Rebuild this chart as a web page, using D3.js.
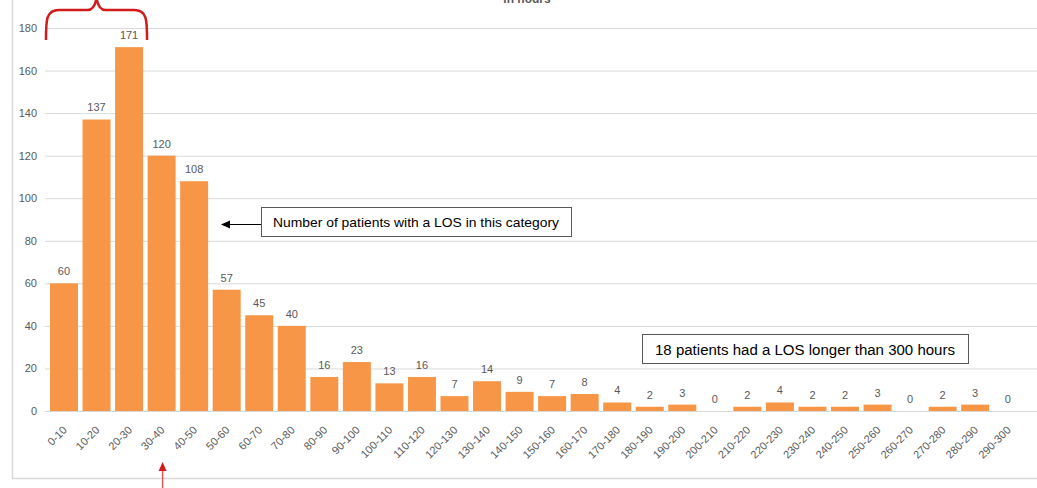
<!DOCTYPE html>
<html><head><meta charset="utf-8">
<script src="https://cdn.jsdelivr.net/npm/d3@7"></script>
<style>body{margin:0;background:#fff;}svg{display:block;}</style>
</head><body>
<svg id="c" width="1037" height="488"></svg>
<script>
const categories = ["0-10","10-20","20-30","30-40","40-50","50-60","60-70","70-80","80-90","90-100","100-110","110-120","120-130","130-140","140-150","150-160","160-170","170-180","180-190","190-200","200-210","210-220","220-230","230-240","240-250","250-260","260-270","270-280","280-290","290-300"];
const patients = [60,137,171,120,108,57,45,40,16,23,13,16,7,14,9,7,8,4,2,3,0,2,4,2,2,3,0,2,3,0];
const yTicks = [0,20,40,60,80,100,120,140,160,180];
const titleText = "in hours";
const note1 = "Number of patients with a LOS in this category";
const note2 = "18 patients had a LOS longer than 300 hours";

(function(){
const svg = d3.select("#c");
const font = "'Liberation Sans', Arial, sans-serif";

// outer frame
svg.append("rect").attr("x",12.5).attr("y",-5).attr("width",1040).attr("height",483.5)
  .attr("fill","none").attr("stroke","#d9d9d9").attr("stroke-width",1.5);

const x = d3.scaleBand().domain(categories).range([47.7,1024]).paddingInner(0.14).paddingOuter(0.07);
const y = d3.scaleLinear().domain([0,180]).range([411,28]);

// gridlines
svg.append("g").selectAll("line").data(yTicks.filter(d=>d>0)).join("line")
  .attr("x1",45).attr("x2",1037).attr("y1",d=>y(d)+0.5).attr("y2",d=>y(d)+0.5)
  .attr("stroke","#d9d9d9").attr("stroke-width",1);

// y axis
const yAxis = svg.append("g").attr("transform","translate(45,0)")
  .call(d3.axisLeft(y).tickValues(yTicks).tickSize(0).tickPadding(8));
yAxis.select(".domain").remove();
yAxis.selectAll("text").attr("fill","#595959").attr("font-size",11).attr("font-family",font);

// bars
svg.append("g").selectAll("rect").data(patients).join("rect")
  .attr("x",(d,i)=>x(categories[i])).attr("width",x.bandwidth())
  .attr("y",d=>y(d)).attr("height",d=>y(0)-y(d)).attr("fill","#F79646");

// baseline
svg.append("line").attr("x1",45).attr("x2",1037).attr("y1",y(0)+0.5).attr("y2",y(0)+0.5).attr("stroke","#d9d9d9");

// value labels
svg.append("g").selectAll("text").data(patients).join("text")
  .attr("x",(d,i)=>x(categories[i])+x.bandwidth()/2).attr("y",d=>y(d)-8)
  .attr("text-anchor","middle").attr("font-size",11).attr("font-family",font).attr("fill","#595959")
  .text(d=>d);

// x axis
const xAxis = svg.append("g").attr("transform",`translate(0,${y(0)})`)
  .call(d3.axisBottom(x).tickSize(0).tickPadding(0));
xAxis.select(".domain").remove();
xAxis.selectAll("text").attr("fill","#595959").attr("font-size",11).attr("font-family",font)
  .attr("text-anchor","end").attr("x",0).attr("y",0).attr("dy","0.35em")
  .attr("transform","translate(1,17) rotate(-45)");

// title (cut off at top, as in the source)
svg.append("text").attr("x",527).attr("y",3).attr("text-anchor","middle")
  .attr("font-size",12).attr("font-weight","bold").attr("font-family",font).attr("fill","#595959").text(titleText);

// red brace over first three bars
const bx0 = x(categories[0]) - 4, bx1 = x(categories[2]) + x.bandwidth() + 4;
const bm = (bx0+bx1)/2, by = 40, r = 9, bt = 10;
svg.append("path")
  .attr("d",`M${bx0},${by} C${bx0},${bt+10} ${bx0},${bt} ${bx0+r+4},${bt} L${bm-r},${bt} Q${bm-2},${bt} ${bm},${bt-12} Q${bm+2},${bt} ${bm+r},${bt} L${bx1-r-4},${bt} C${bx1},${bt} ${bx1},${bt+10} ${bx1},${by}`)
  .attr("fill","none").attr("stroke","#d01c1c").attr("stroke-width",2.5);

// red arrow at bottom pointing up toward 30-40
const ax = x(categories[3]) + x.bandwidth()/2 + 1;
svg.append("line").attr("x1",ax).attr("x2",ax).attr("y1",488).attr("y2",470).attr("stroke","#e05555").attr("stroke-width",1.5);
svg.append("path").attr("d",`M${ax-4},471 L${ax},462 L${ax+4},471 Z`).attr("fill","#d01c1c");

// annotation box 1
svg.append("rect").attr("x",261.5).attr("y",207.5).attr("width",310).attr("height",29)
  .attr("fill","#fff").attr("stroke","#595959").attr("stroke-width",1);
svg.append("text").attr("x",416).attr("y",227).attr("text-anchor","middle").attr("font-size",13)
  .attr("font-family",font).attr("fill","#000").attr("textLength",286).attr("lengthAdjust","spacingAndGlyphs").text(note1);
svg.append("line").attr("x1",261).attr("x2",228).attr("y1",224.5).attr("y2",224.5).attr("stroke","#000").attr("stroke-width",1);
svg.append("path").attr("d","M221,224.5 L230,220.5 L230,228.5 Z").attr("fill","#000");

// annotation box 2
svg.append("rect").attr("x",642.5).attr("y",334.5).attr("width",326).attr("height",29)
  .attr("fill","#fff").attr("stroke","#595959").attr("stroke-width",1);
svg.append("text").attr("x",805).attr("y",355).attr("text-anchor","middle").attr("font-size",14)
  .attr("font-family",font).attr("fill","#000").attr("textLength",300).attr("lengthAdjust","spacingAndGlyphs").text(note2);
})();
</script>
</body></html>
